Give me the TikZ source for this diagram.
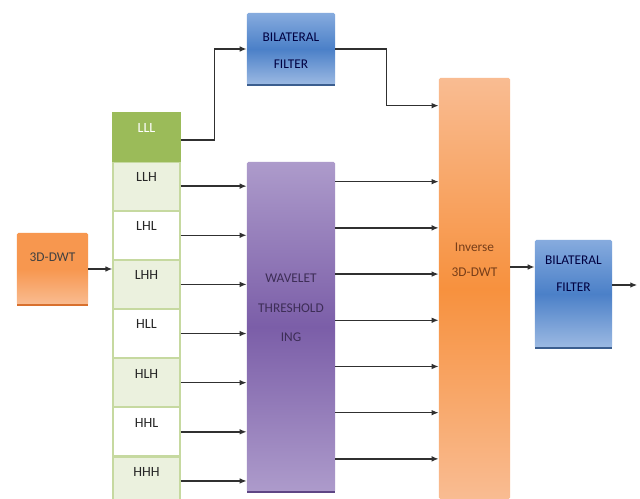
\documentclass[tikz,border=0pt]{standalone}
\usepackage{fontspec}
\setmainfont{Carlito}
\usetikzlibrary{positioning,calc,arrows.meta}

\definecolor{orgtop}{HTML}{F7974F}
\definecolor{orgmid}{HTML}{F7913E}
\definecolor{orglight}{HTML}{F9BC92}
\definecolor{orgedge}{HTML}{D8702E}
\definecolor{bluetop}{HTML}{86ABDE}
\definecolor{bluemid}{HTML}{4B80C8}
\definecolor{bluelight}{HTML}{9DBAE3}
\definecolor{blueedge}{HTML}{3B5E8F}
\definecolor{purtop}{HTML}{AD9BCB}
\definecolor{purmid}{HTML}{7B5EA8}
\definecolor{puredge}{HTML}{5E4685}
\definecolor{cellgreen}{HTML}{EBF1DE}
\definecolor{cellline}{HTML}{C6D9A0}
\definecolor{lllgreen}{HTML}{9BBB59}
\definecolor{flowgray}{HTML}{303030}

\tikzset{
  blockbox/.style={rectangle,rounded corners=1pt,inner sep=0pt},
  orangebox/.style={blockbox,top color=orgtop,bottom color=orglight,middle color=orgtop},
  invbox/.style={blockbox,top color=orglight,bottom color=orglight,middle color=orgmid},
  bluebox/.style={blockbox,top color=bluetop,bottom color=bluelight,middle color=bluemid},
  purplebox/.style={blockbox,top color=purtop,bottom color=purtop,middle color=purmid},
  cell/.style={rectangle,draw=cellline,line width=0.8pt,fill=cellgreen,
    minimum width=1.675cm,minimum height=1.2cm,inner sep=0pt,
    text height=7pt,text depth=13.5pt,text=black!85,font=\fontsize{10}{12}\selectfont},
  whitecell/.style={cell,fill=white},
  boxtext/.style={align=center,font=\fontsize{9.5}{19}\selectfont},
  flow/.style={draw=flowgray,line width=1.1pt,-{Latex[length=5pt,width=4pt]}},
}

\begin{document}
\begin{tikzpicture}[x=0.025cm,y=-0.025cm,node distance=0pt,font=\fontsize{9}{11}\selectfont]
\useasboundingbox (0,0) rectangle (640,499);
\fill[white] (0,0) rectangle (640,499);

% input and subbands
\node[orangebox,minimum width=1.775cm,minimum height=1.8cm,
      label={[boxtext,text=black!75,yshift=0.3cm]center:3D-DWT}] (dwt) at (52.5,269) {};
\node[cell,fill=lllgreen,draw=lllgreen,text=white] (lll) at (146.5,137) {LLL};
\node[cell]      (llh) [below=of lll] {LLH};
\node[whitecell] (lhl) [below=of llh] {LHL};
\node[cell]      (lhh) [below=of lhl] {LHH};
\node[whitecell] (hll) [below=of lhh] {HLL};
\node[cell]      (hlh) [below=of hll] {HLH};
\node[whitecell] (hhl) [below=of hlh] {HHL};
\node[cell]      (hhh) [below=of hhl] {HHH};

% processing blocks
\node[bluebox,minimum width=2.2cm,minimum height=1.8cm,
      label={[boxtext,text=blue!25!black,yshift=-0.05cm]center:BILATERAL\\FILTER}] (bf1) at (291,49) {};
\node[purplebox,minimum width=2.2cm,minimum height=8.25cm,
      label={[boxtext,font=\fontsize{9.5}{21}\selectfont,text=puredge!65!black,yshift=0.475cm]center:WAVELET\\THRESHOLD\\ING}] (wt) at (291,327) {};
\node[invbox,minimum width=1.775cm,minimum height=10.525cm,
      label={[boxtext,font=\fontsize{9.5}{17.5}\selectfont,text=orgedge!55!black,yshift=0.725cm]center:Inverse\\3D-DWT}] (inv) at (474.5,288.5) {};
\node[bluebox,minimum width=1.925cm,minimum height=2.7cm,
      label={[boxtext,text=blue!25!black,yshift=0.51cm]center:BILATERAL\\FILTER}] (bf2) at (573.5,294) {};

% darker bottom edges
\foreach \b/\c in {dwt/orgedge,bf1/blueedge,bf2/blueedge,wt/puredge}
  \draw[\c,line width=1.6pt] ([xshift=0.5pt]\b.south west) -- ([xshift=-0.5pt]\b.south east);

% connectors
\draw[flow] (dwt.east) -- (lhh.west |- dwt.east);
\draw[flow] ([yshift=-0.075cm]lll.east) -- ++(34,0) |- (bf1.west);
\draw[flow] (bf1.east) -- ++(51,0) |- ($(inv.north west)+(0,28)$);
\foreach \s in {llh,lhl,lhh,hll,hlh,hhl,hhh}
  \draw[flow] (\s.east) -- (wt.west |- \s.east);
\foreach \i in {0,...,6}{
  \coordinate (wo\i) at ($(wt.north east)+(0,{20+46.2*\i})$);
  \draw[flow] (wo\i) -- (inv.west |- wo\i);
}
\coordinate (bfin) at ([yshift=0.675cm]bf2.west);
\draw[flow] (inv.east |- bfin) -- (bfin);
\draw[flow] ([yshift=0.225cm]bf2.east) -- ++(25,0);
\end{tikzpicture}
\end{document}
